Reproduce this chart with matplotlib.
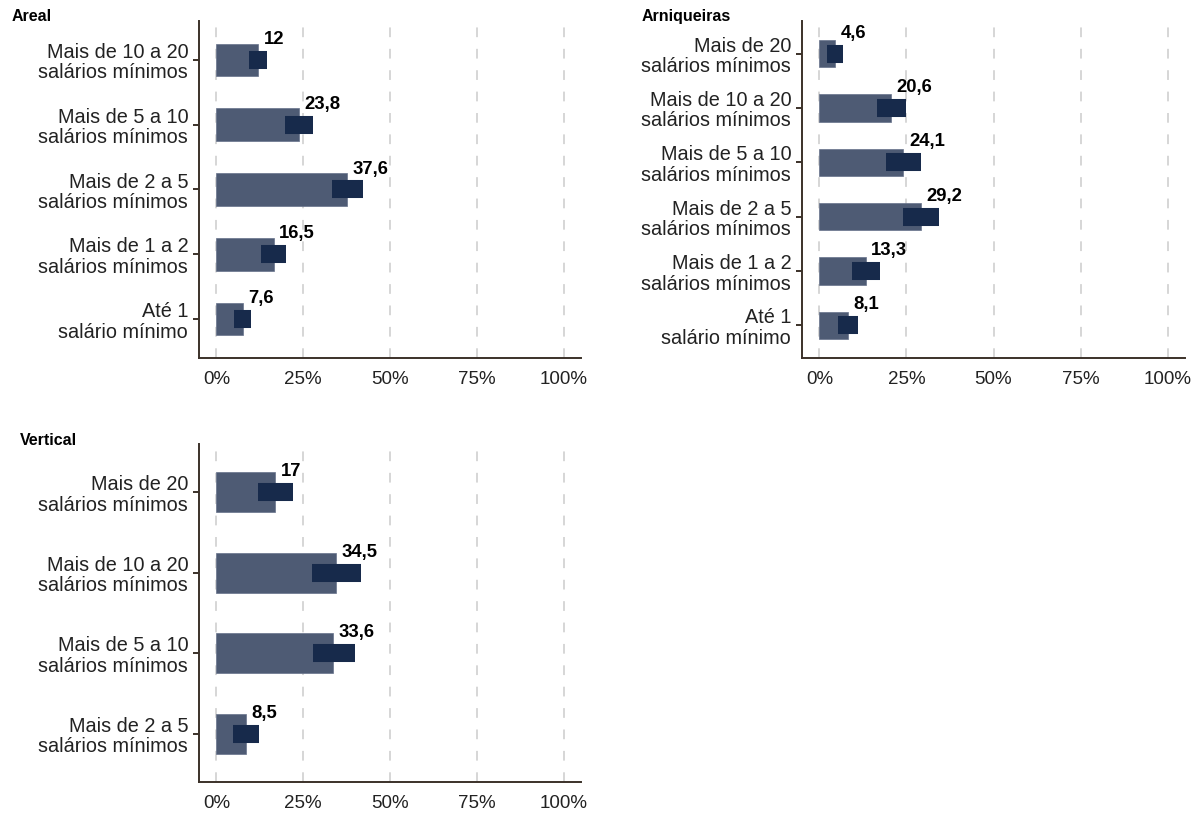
import matplotlib
matplotlib.use("Agg")
import matplotlib.pyplot as plt

plt.rcParams["font.family"] = ["Liberation Sans", "DejaVu Sans"]

# Areal
areal_labels = ["Mais de 10 a 20\nsalários mínimos", "Mais de 5 a 10\nsalários mínimos",
                "Mais de 2 a 5\nsalários mínimos", "Mais de 1 a 2\nsalários mínimos",
                "Até 1\nsalário mínimo"]
areal_values = [12, 23.8, 37.6, 16.5, 7.6]
areal_low = [9.3, 19.7, 33.2, 12.9, 5.2]
areal_high = [14.7, 27.9, 42.1, 20.1, 10.1]

# Arniqueiras
arniq_labels = ["Mais de 20\nsalários mínimos", "Mais de 10 a 20\nsalários mínimos",
                "Mais de 5 a 10\nsalários mínimos", "Mais de 2 a 5\nsalários mínimos",
                "Mais de 1 a 2\nsalários mínimos", "Até 1\nsalário mínimo"]
arniq_values = [4.6, 20.6, 24.1, 29.2, 13.3, 8.1]
arniq_low = [2.3, 16.5, 19.1, 24.0, 9.4, 5.4]
arniq_high = [6.7, 24.9, 29.2, 34.4, 17.3, 11.0]

# Vertical
vert_labels = ["Mais de 20\nsalários mínimos", "Mais de 10 a 20\nsalários mínimos",
               "Mais de 5 a 10\nsalários mínimos", "Mais de 2 a 5\nsalários mínimos"]
vert_values = [17, 34.5, 33.6, 8.5]
vert_low = [12.0, 27.6, 27.8, 4.8]
vert_high = [22.0, 41.7, 39.8, 12.4]

x_ticks = [0, 25, 50, 75, 100]
x_ticklabels = ["0%", "25%", "50%", "75%", "100%"]

bar_color = "#4e5b74"
ci_color = "#172a4b"
axis_color = "#3b3129"
grid_color = "#d6d6d6"

W, H = 1203, 814
fig = plt.figure(figsize=(W / 100, H / 100), dpi=100)


def px_axes(left, top, right, bottom):
    return fig.add_axes([left / W, 1 - bottom / H, (right - left) / W, (bottom - top) / H])


def panel(ax, labels, values, low, high):
    n = len(labels)
    ypos = list(range(n))[::-1]
    ax.set_xlim(-5, 105)
    ax.set_ylim(-0.6, n - 1 + 0.6)
    for x in x_ticks:
        ax.axvline(x, color=grid_color, linewidth=1.4, linestyle=(0, (5, 6)), zorder=0)
    ax.barh(ypos, values, height=0.5, color=bar_color, edgecolor="#66728a",
            linewidth=0.5, zorder=2)
    ax.hlines(ypos, low, high, color=ci_color, linewidth=13, capstyle="butt", zorder=3)
    for y, v in zip(ypos, values):
        txt = f"{v:g}".replace(".", ",")
        ax.annotate(txt, (v, y), xytext=(4, 11.5), textcoords="offset points",
                    ha="left", va="baseline", fontsize=13.3, fontweight="bold", color="black")
    ax.set_yticks(ypos)
    ax.set_yticklabels(labels, fontsize=14.3, color="#222222", linespacing=1.1)
    ax.set_xticks(x_ticks)
    ax.set_xticklabels(x_ticklabels, fontsize=13.5, color="#222222")
    ax.tick_params(axis="y", length=4.3, width=1.4, color=axis_color, pad=3.5)
    ax.tick_params(axis="x", length=0, pad=9)
    for s in ["top", "right"]:
        ax.spines[s].set_visible(False)
    for s in ["left", "bottom"]:
        ax.spines[s].set_color(axis_color)
        ax.spines[s].set_linewidth(1.4)


ax1 = px_axes(199, 21, 581, 358)
panel(ax1, areal_labels, areal_values, areal_low, areal_high)
fig.text(12 / W, 1 - 21 / H, "Areal", fontsize=11.5, fontweight="bold", va="baseline")

ax2 = px_axes(802, 21, 1185, 358)
panel(ax2, arniq_labels, arniq_values, arniq_low, arniq_high)
fig.text(642 / W, 1 - 21 / H, "Arniqueiras", fontsize=11.5, fontweight="bold", va="baseline")

ax3 = px_axes(199, 444, 581, 782)
panel(ax3, vert_labels, vert_values, vert_low, vert_high)
fig.text(20 / W, 1 - 445 / H, "Vertical", fontsize=11.5, fontweight="bold", va="baseline")

fig.savefig("out.png", dpi=100, facecolor="white")
